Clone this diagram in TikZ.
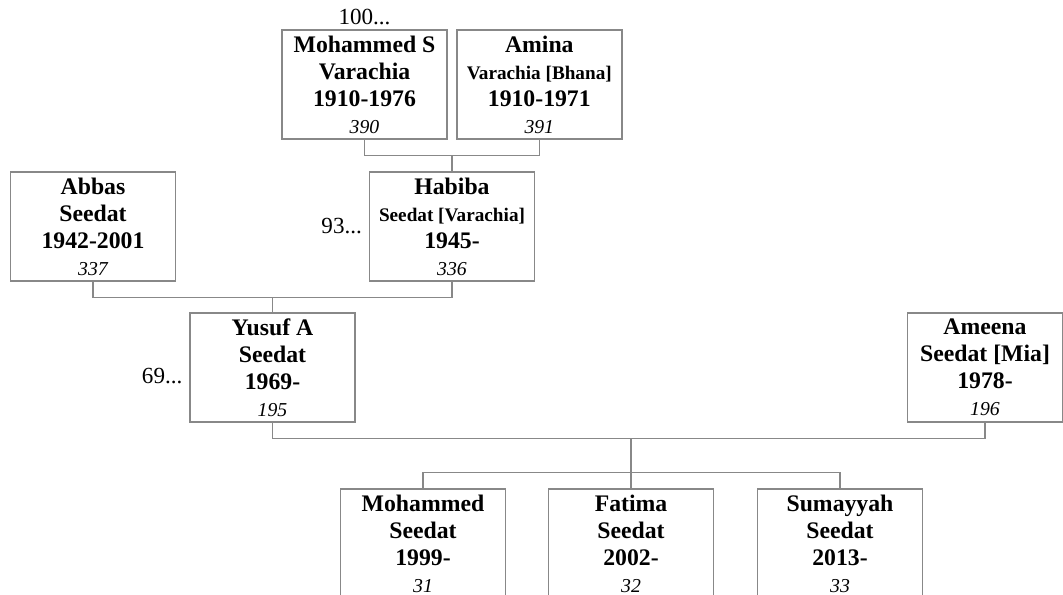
\documentclass[tikz,border=0pt]{standalone}
\usepackage{fontspec}
\setmainfont{Liberation Serif}
\usetikzlibrary{positioning}
\definecolor{boxline}{RGB}{136,136,136}
\newcommand{\subline}[1]{{\fontsize{14.4}{20.25}\selectfont #1}}
\newcommand{\idno}[1]{{\fontsize{14.8}{20.25}\selectfont\mdseries\itshape #1}}
\tikzset{
  person/.style={draw=boxline,line width=1.1pt,minimum width=123.75pt,minimum height=81.75pt,
    inner sep=0pt,align=center,font=\fontsize{17.8}{20.25}\selectfont\bfseries},
  link/.style={draw=boxline,line width=1.1pt},
  more/.style={inner sep=0pt,font=\fontsize{17.3}{20.25}\selectfont}
}
\begin{document}
\begin{tikzpicture}[x=0.75pt,y=-0.75pt]
  \useasboundingbox (0,0) rectangle (1063,594);
  % grandparents
  \node[person] (p390) at (364.5,84.5) {Mohammed S\\Varachia\\1910-1976\\\idno{390}};
  \node[person] (p391) at (539.3,84.5) {Amina\\\subline{Varachia [Bhana]}\\1910-1971\\\idno{391}};
  % parents
  \node[person] (p337) at (93,226.5) {Abbas\\Seedat\\1942-2001\\\idno{337}};
  \node[person] (p336) at (452,226.5) {Habiba\\\subline{Seedat [Varachia]}\\1945-\\\idno{336}};
  % couple
  \node[person] (p195) at (272.5,367.5) {Yusuf A\\Seedat\\1969-\\\idno{195}};
  \node[person,minimum width=116.25pt] (p196) at (985,367.5) {Ameena\\Seedat [Mia]\\1978-\\\idno{196}};
  % children
  \node[person] (c31) at (423,543.5) {Mohammed\\Seedat\\1999-\\\idno{31}};
  \node[person] (c32) at (631,543.5) {Fatima\\Seedat\\2002-\\\idno{32}};
  \node[person] (c33) at (840,543.5) {Sumayyah\\Seedat\\2013-\\\idno{33}};
  % more ancestors
  \node[more,above=3.5pt of p390] (up390) {100...};
  \node[more,left=5pt of p336] (up336) {93...};
  \node[more,left=5pt of p195,yshift=-6.75pt] (up195) {69...};
  % links
  \draw[link] (p390.south) -- ++(0,16) coordinate (j1) -| (p391.south);
  \draw[link] (p336.north) -- (p336.north |- j1);
  \draw[link] (p337.south) -- ++(0,16) coordinate (j2) -| (p336.south);
  \draw[link] (p195.north) -- (p195.north |- j2);
  \draw[link] (p195.south) -- ++(0,16) coordinate (j3) -| (p196.south);
  \draw[link] (c32.north) -- ++(0,-16) coordinate (j4) -- (c32.north |- j3);
  \draw[link] (c31.north) |- (j4) -| (c33.north);
\end{tikzpicture}
\end{document}
